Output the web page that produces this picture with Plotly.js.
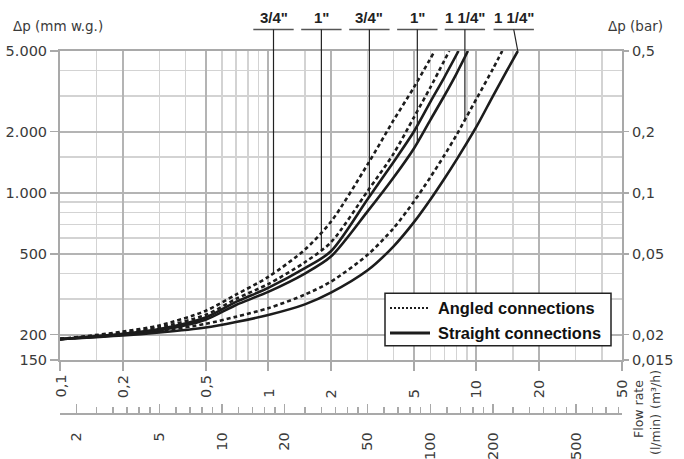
<!DOCTYPE html>
<html><head><meta charset="utf-8">
<script src="https://cdn.plot.ly/plotly-3.0.1.min.js"></script>
<style>html,body{margin:0;padding:0;background:#fff}#chart{width:684px;height:459px}</style>
</head><body><div id="chart"></div>
<script>
// ---- data (flow rate in m3/h, pressure drop in mm w.g.) ----
const flowAngled34 = [0.1,0.2,0.3,0.5,0.7,1,1.5,2,3,4,5,6.3];
const dpAngled34   = [190,207,222,262,315,385,525,720,1380,2280,3300,5000];
const flowAngled1  = [0.1,0.2,0.3,0.5,0.7,1,1.5,2,3,4,5,6,7.4];
const dpAngled1    = [190,204,217,250,300,355,455,570,1020,1560,2350,3300,5000];
const flowStraight34 = [0.1,0.2,0.3,0.5,0.7,1,1.5,2,3,4,5,6,7,8.2];
const dpStraight34   = [190,202,213,243,290,340,425,515,930,1420,2000,2800,3700,5000];
const flowStraight1  = [0.1,0.2,0.3,0.5,0.7,1,1.5,2,3,4,5,6,7,8,9.1];
const dpStraight1    = [190,200,210,237,280,325,400,485,810,1190,1650,2283,3000,3850,5000];
const flowAngled114  = [0.1,0.2,0.3,0.5,0.7,1,1.5,2,3,4,5,6,7,8,10,12,13.3];
const dpAngled114    = [191,200,208,226,245,270,315,365,495,670,904,1191,1527,1920,2906,4084,5000];
const flowStraight114 = [0.1,0.2,0.3,0.5,0.7,1,1.5,2,3,4,5,6,7,8,10,12,14,15.8];
const dpStraight114   = [190,198,205,217,231,250,282,322,415,545,715,925,1170,1449,2118,3000,4000,5000];

const sizeLabels = ['3/4"','1"','3/4"','1"','1 1/4"','1 1/4"'];
const labelFlow  = [1.06,1.8,3.06,5.2,8.8,15.1];
const leaderFlow = [1.06,1.8,3.06,5.2,8.8,15.8];
const legendNames = ['Angled connections','Straight connections'];

const yTickVals = [150,200,500,1000,2000,5000];
const yTickText = ['150','200','500','1.000','2.000','5.000'];
const barTickText = ['0,015','0,02','0,05','0,1','0,2','0,5'];
const yMinorVals = [300,400,600,700,800,900,1500,3000,4000];
const xTickVals = [0.1,0.2,0.5,1,2,5,10,20,50];
const xTickText = ['0,1','0,2','0,5','1','2','5','10','20','50'];
const xMinorVals = [0.15,0.3,0.4,0.6,0.7,0.8,0.9,1.5,3,4,6,7,8,9,15,30,40];
const lminTickVals = [2,5,10,20,50,100,200,500];
const lminTickText = ['2','5','10','20','50','100','200','500'];
const lminMinorVals = [2.5,3,3.5,4,4.5,6,7,8,9,12,14,16,18,25,30,35,40,45,60,70,80,90,120,140,160,180,250,300,350,400,450,600,700,800];

// ---- layout geometry ----
const W=684, H=459, L=60, R=62, T=51, B=46;
const plotBottomPx = 360;
const paperH = H-T-B;
const yDom0 = (H-B-plotBottomPx)/paperH;
const pX = px => (px-L)/(W-L-R);
const pY = py => (H-B-py)/paperH;

const axisFont = {family:'DejaVu Sans', size:14.5, color:'#3a3a3a'};
const titleFont = {family:'DejaVu Sans', size:13.5, color:'#3a3a3a'};
const ink = '#1c1c1c';
const gridMajor = '#b4b4b4', gridMinor = '#d3d3d3', axisCol = '#a9a9a9';
const underlineRatio = 1.25;

function interpLog(xs, ys, x){
  for(let i=0;i<xs.length-1;i++){
    if(x>=xs[i] && x<=xs[i+1]){
      const t=(Math.log(x)-Math.log(xs[i]))/(Math.log(xs[i+1])-Math.log(xs[i]));
      return Math.exp(Math.log(ys[i])+t*(Math.log(ys[i+1])-Math.log(ys[i])));
    }
  }
  return ys[ys.length-1];
}

const dashA = '4px,3px';
function curve(x,y,dash,name){
  return {type:'scatter',mode:'lines',x:x,y:y,name:name,showlegend:false,hoverinfo:'skip',
    line:{color:ink,width:2.6,dash:dash,shape:'spline',smoothing:0.8}};
}
const traces = [
  curve(flowAngled34,dpAngled34,dashA,'3/4" angled'),
  curve(flowStraight34,dpStraight34,'solid','3/4" straight'),
  curve(flowAngled1,dpAngled1,dashA,'1" angled'),
  curve(flowStraight1,dpStraight1,'solid','1" straight'),
  curve(flowAngled114,dpAngled114,dashA,'1 1/4" angled'),
  curve(flowStraight114,dpStraight114,'solid','1 1/4" straight'),
  {type:'scatter',mode:'lines',x:[],y:[],xaxis:'x2',yaxis:'y2',showlegend:false,hoverinfo:'skip'}
];
const curveSet = [[flowAngled34,dpAngled34],[flowAngled1,dpAngled1],[flowStraight34,dpStraight34],
                  [flowStraight1,dpStraight1],[flowAngled114,dpAngled114],[flowStraight114,dpStraight114]];

const annotations = [];
const shapes = [];
xTickVals.forEach((v,i)=>annotations.push({x:Math.log10(v),xref:'x',y:pY(400),yref:'paper',
  text:xTickText[i],textangle:-90,xanchor:'center',yanchor:'bottom',showarrow:false,font:axisFont}));
annotations.push({x:pX(11),xref:'paper',y:pY(26),yref:'paper',text:'Δp (mm w.g.)',xanchor:'left',yanchor:'middle',showarrow:false,font:titleFont});
annotations.push({x:pX(606),xref:'paper',y:pY(26),yref:'paper',text:'Δp (bar)',xanchor:'left',yanchor:'middle',showarrow:false,font:titleFont});
const flowFont = {family:'DejaVu Sans',size:12.5,color:'#3a3a3a'};
annotations.push({x:pX(638),xref:'paper',y:pY(409),yref:'paper',text:'Flow rate',textangle:-90,xanchor:'center',yanchor:'middle',showarrow:false,font:flowFont});
annotations.push({x:pX(655),xref:'paper',y:pY(390),yref:'paper',text:'(m³/h)',textangle:-90,xanchor:'center',yanchor:'middle',showarrow:false,font:flowFont});
annotations.push({x:pX(655),xref:'paper',y:pY(435),yref:'paper',text:'(l/min)',textangle:-90,xanchor:'center',yanchor:'middle',showarrow:false,font:flowFont});

sizeLabels.forEach((t,i)=>{
  annotations.push({x:Math.log10(labelFlow[i]),xref:'x',y:pY(17.5),yref:'paper',text:t,showarrow:false,
    xanchor:'center',yanchor:'middle',font:{family:'Liberation Sans',size:15,color:'#222',weight:'bold'}});
  shapes.push({type:'line',xref:'x',x0:labelFlow[i]/underlineRatio,x1:labelFlow[i]*underlineRatio,yref:'paper',
    y0:pY(29.5),y1:pY(29.5),line:{color:'#555',width:1.5}});
  shapes.push({type:'line',xref:'x',yref:'paper',x0:labelFlow[i],x1:leaderFlow[i],y0:pY(29.5),y1:1,
    line:{color:'#222',width:1.2}});
  const c = curveSet[i];
  const dpEnd = interpLog(c[0],c[1],leaderFlow[i]);
  if(dpEnd<5000) shapes.push({type:'line',xref:'x',yref:'y',x0:leaderFlow[i],x1:leaderFlow[i],y0:5000,y1:dpEnd,
    line:{color:'#222',width:1.2}});
});

// legend box (drawn as shapes + text)
const legFont = {family:'Liberation Sans',size:16.4,color:'#111',weight:'bold'};
shapes.push({type:'rect',xref:'paper',yref:'paper',x0:pX(385),x1:pX(611),y0:pY(345.7),y1:pY(293.3),
  fillcolor:'#fff',line:{color:'#222',width:1.5}});
shapes.push({type:'line',xref:'paper',yref:'paper',x0:pX(390),x1:pX(430),y0:pY(308),y1:pY(308),
  line:{color:ink,width:2,dash:'2px,2px'}});
shapes.push({type:'line',xref:'paper',yref:'paper',x0:pX(390),x1:pX(430),y0:pY(333),y1:pY(333),
  line:{color:ink,width:3}});
annotations.push({x:pX(436),xref:'paper',y:pY(308),yref:'paper',text:legendNames[0],xanchor:'left',yanchor:'middle',showarrow:false,font:legFont});
annotations.push({x:pX(436),xref:'paper',y:pY(333),yref:'paper',text:legendNames[1],xanchor:'left',yanchor:'middle',showarrow:false,font:legFont});

const layout = {
  width:W,height:H,margin:{l:L,r:R,t:T,b:B},paper_bgcolor:'#fff',plot_bgcolor:'#fff',
  font:axisFont, showlegend:false,
  xaxis:{type:'log',range:[Math.log10(0.1),Math.log10(50)],tickvals:xTickVals,showticklabels:false,
    ticks:'outside',ticklen:9,tickwidth:2,tickcolor:axisCol,
    showgrid:true,gridcolor:gridMajor,gridwidth:2,showline:true,linecolor:axisCol,linewidth:2,mirror:true,zeroline:false,
    minor:{tickvals:xMinorVals,showgrid:true,gridcolor:gridMinor,gridwidth:1.4,ticks:''}},
  yaxis:{type:'log',domain:[yDom0,1],range:[Math.log10(150),Math.log10(5000)],tickvals:yTickVals,ticktext:yTickText,
    ticks:'outside',ticklen:8,tickwidth:1.5,tickcolor:axisCol,tickfont:axisFont,
    showgrid:true,gridcolor:gridMajor,gridwidth:2,showline:true,linecolor:axisCol,linewidth:2,mirror:true,zeroline:false,
    minor:{tickvals:yMinorVals,showgrid:true,gridcolor:gridMinor,gridwidth:1.4,ticks:''}},
  xaxis2:{type:'log',overlaying:'x',anchor:'free',position:0,side:'bottom',
    range:[Math.log10(0.1*1000/60),Math.log10(50*1000/60)],
    tickvals:lminTickVals,ticktext:lminTickText,tickangle:-90,ticks:'inside',ticklen:9,tickwidth:1.5,tickcolor:axisCol,
    ticklabelstandoff:12,tickfont:axisFont,
    minor:{tickvals:lminMinorVals,ticks:'inside',ticklen:6,tickwidth:1.5,tickcolor:axisCol,showgrid:false},
    showgrid:false,showline:true,linecolor:axisCol,linewidth:1.5,zeroline:false},
  yaxis2:{type:'log',overlaying:'y',anchor:'x',side:'right',range:[Math.log10(150),Math.log10(5000)],
    tickvals:yTickVals,ticktext:barTickText,ticks:'outside',ticklen:6,tickwidth:1.5,tickcolor:axisCol,tickfont:axisFont,
    showgrid:false,showline:false,zeroline:false},
  annotations:annotations, shapes:shapes
};
Plotly.newPlot('chart',traces,layout,{displayModeBar:false,staticPlot:true});
</script></body></html>
